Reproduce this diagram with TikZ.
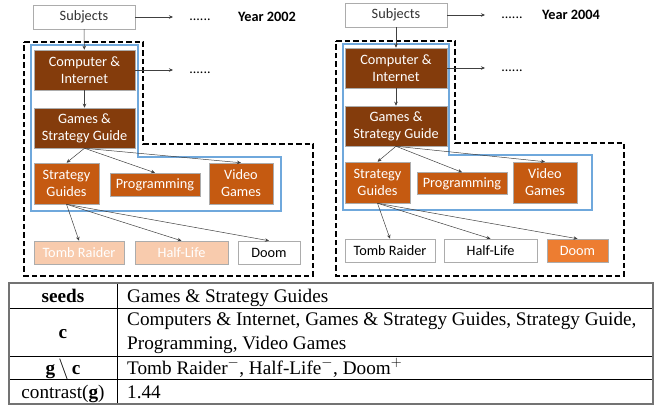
\documentclass[tikz,border=0pt]{standalone}
\usepackage{fontspec}
\setmainfont{Carlito}
\newfontfamily\tabfont{Liberation Serif}
\usetikzlibrary{arrows.meta}
\definecolor{catbrown}{HTML}{843C0C}
\definecolor{catorange}{HTML}{C55A11}
\definecolor{hitorange}{HTML}{ED7D31}
\definecolor{misspeach}{HTML}{F8CBAD}
\definecolor{seedblue}{HTML}{6FA8DC}
\tikzset{
  box/.style={draw=gray!65, line width=0.5pt, inner sep=0pt, align=center,
    font=\fontsize{14.3}{17}\selectfont},
  subj/.style={box, fill=white, text=black!80},
  top/.style={box, fill=catbrown, text=white},
  sub/.style={box, fill=catorange, text=white},
  miss/.style={box, fill=misspeach, text=white},
  hit/.style={box, fill=hitorange, text=white},
  plain/.style={box, fill=white, text=black},
  link/.style={draw=black!75, line width=0.5pt, -{Stealth[length=4pt,width=3.5pt]}},
  more/.style={anchor=base, font=\fontsize{14}{17}\selectfont},
  year/.style={font=\fontsize{14.3}{17}\selectfont\bfseries},
  outer/.style={line width=2pt, dash pattern=on 5.5pt off 3pt},
  seedframe/.style={draw=seedblue, line width=1.2pt},
  tab/.style={font=\tabfont\fontsize{19.2}{23}\selectfont, inner sep=0pt}
}
\begin{document}
\begin{tikzpicture}[x=1pt, y=-1pt]
  \useasboundingbox (0,0) rectangle (659,406);
  % year 2002
  \draw[outer] (24,42) -- (143,42) -- (143,144) -- (313,144) -- (313,276) -- (24,276) -- cycle;
  \draw[seedframe] (31,45) -- (138,45) -- (138,157) -- (281,157) -- (281,211) -- (31,211) -- cycle;
  \node[subj, minimum width=102pt, minimum height=24pt] (subjA) at (84,17) {Subjects};
  \node[top, minimum width=101pt, minimum height=40pt] (compA) at (84.5,70) {Computer \&\\Internet};
  \node[top, minimum width=101pt, minimum height=40pt] (gamesA) at (84.5,128) {Games \&\\Strategy Guide};
  \node[sub, minimum width=65pt, minimum height=41pt] (guidesA) at (66.5,183.5) {Strategy\\Guides};
  \node[sub, minimum width=90pt, minimum height=23pt] (progA) at (155,184.5) {Programming};
  \node[sub, minimum width=64pt, minimum height=41pt] (videoA) at (241,183.5) {Video\\Games};
  \node[miss, minimum width=90pt, minimum height=23pt] (tombA) at (79,252.5) {Tomb Raider};
  \node[miss, minimum width=93pt, minimum height=23pt] (halfA) at (181.5,252.5) {Half-Life};
  \node[plain, minimum width=62pt, minimum height=23pt] (doomA) at (269,252.5) {Doom};
  \node[more] (moreA1) at (200,21) {......};
  \node[more] (moreA2) at (200,74) {......};
  \node[year] (yearA) at (267,17) {Year 2002};
  \coordinate (endA1) at (173,17);
  \coordinate (endA2) at (173,70);
  % year 2004
  \draw[outer] (336,41) -- (455,41) -- (455,143) -- (624,143) -- (624,276) -- (336,276) -- cycle;
  \draw[seedframe] (343,44) -- (449,44) -- (449,155) -- (592,155) -- (592,210) -- (343,210) -- cycle;
  \node[subj, minimum width=102pt, minimum height=24pt] (subjB) at (396,15) {Subjects};
  \node[top, minimum width=102pt, minimum height=40pt] (compB) at (396,68) {Computer \&\\Internet};
  \node[top, minimum width=102pt, minimum height=40pt] (gamesB) at (396,126) {Games \&\\Strategy Guide};
  \node[sub, minimum width=65pt, minimum height=41pt] (guidesB) at (377.5,182.5) {Strategy\\Guides};
  \node[sub, minimum width=90pt, minimum height=22pt] (progB) at (462,183.5) {Programming};
  \node[sub, minimum width=64pt, minimum height=41pt] (videoB) at (545,182.5) {Video\\Games};
  \node[plain, minimum width=90pt, minimum height=23pt] (tombB) at (390,250.5) {Tomb Raider};
  \node[plain, minimum width=93pt, minimum height=23pt] (halfB) at (490.5,250.5) {Half-Life};
  \node[hit, minimum width=61pt, minimum height=23pt] (doomB) at (577.5,250.5) {Doom};
  \node[more] (moreB1) at (512,19) {......};
  \node[more] (moreB2) at (512,72) {......};
  \node[year] (yearB) at (571,15) {Year 2004};
  \coordinate (endB1) at (485,15);
  \coordinate (endB2) at (485,68);
  \begin{scope}[link]
    \draw (subjA.east) -- (endA1);
    \draw (compA.east) -- (endA2);
    \draw (subjA) -- (compA);
    \draw (compA) -- (gamesA);
    \draw (gamesA.south) -- (guidesA.north);
    \draw (gamesA.south) -- (progA.north);
    \draw (gamesA.south) -- (videoA.north);
    \draw (guidesA.south) -- (tombA.north);
    \draw (guidesA.south) -- (halfA.north);
    \draw (guidesA.south) -- (doomA.north);
    \draw (subjB.east) -- (endB1);
    \draw (compB.east) -- (endB2);
    \draw (subjB) -- (compB);
    \draw (compB) -- (gamesB);
    \draw (gamesB.south) -- (guidesB.north);
    \draw (gamesB.south) -- (progB.north);
    \draw (gamesB.south) -- (videoB.north);
    \draw (guidesB.south) -- (tombB.north);
    \draw (guidesB.south) -- (halfB.north);
    \draw (guidesB.south) -- (doomB.north);
  \end{scope}
  % table
  \draw[line width=0.8pt] (9,308) -- (653,308) (9,356) -- (653,356) (9,379) -- (653,379)
    (117,283) -- (117,404);
  \draw[black!55, line width=1.2pt] (9,283) rectangle (653,404);
  \node[tab, anchor=base] (seedsL) at (63,302) {\textbf{seeds}};
  \node[tab, anchor=base] (catL) at (63,338) {\textbf{c}};
  \node[tab, anchor=base] (restL) at (63,374) {\textbf{g}\,$\setminus$\,\textbf{c}};
  \node[tab, anchor=base] (scoreL) at (63,398) {contrast(\textbf{g})};
  \node[tab, anchor=base west] (seedsR) at (127,302) {Games \& Strategy Guides};
  \node[tab, anchor=base west] (catR1) at (127,326)
    {Computers \& Internet, Games \& Strategy Guides, Strategy Guide,};
  \node[tab, anchor=base west] (catR2) at (127,349) {Programming, Video Games};
  \node[tab, anchor=base west] (restR) at (127,374)
    {Tomb Raider\textsuperscript{$-$}, Half-Life\textsuperscript{$-$}, Doom\textsuperscript{$+$}};
  \node[tab, anchor=base west] (scoreR) at (127,398) {1.44};
\end{tikzpicture}
\end{document}
